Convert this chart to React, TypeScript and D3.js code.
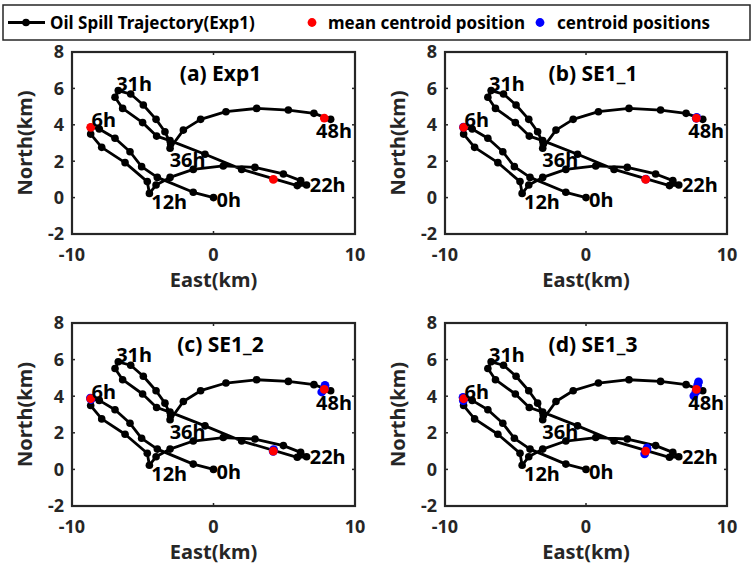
import React from 'react';
import * as d3 from 'd3';

// Exp1 oil spill trajectory, hourly-ish positions (km east, km north)
const trajEast = [
  0.0, -1.43, -3.97, -5.08, -5.9, -6.96, -8.07, -8.68,
  -8.68, -7.9, -6.25, -4.68, -4.53,
  -4.06, -3.07, -1.43, 0.69, 2.93, 4.94, 6.16, 6.58,
  5.92, 1.99, -0.6, -3.07, -4.02, -5.01, -6.42, -6.96, -6.73,
  -5.85, -4.96, -4.06, -3.43, -3.03, -3.07,
  -2.13, -0.91, 0.88, 3.05, 5.29, 7.1, 8.28,
];
const trajNorth = [
  0.0, 0.29, 1.11, 1.7, 2.52, 3.26, 3.77, 3.86,
  3.49, 2.76, 1.92, 0.88, 0.23,
  0.69, 1.11, 1.55, 1.74, 1.66, 1.3, 0.93, 0.69,
  0.66, 1.55, 2.38, 3.13, 3.38, 4.12, 4.9, 5.51, 5.88,
  5.69, 5.09, 4.3, 3.62, 2.95, 2.71,
  3.71, 4.3, 4.72, 4.9, 4.81, 4.63, 4.3,
];

// Time labels along the trajectory
const timeLabels = ['0h', '6h', '12h', '22h', '31h', '36h', '48h'];
const timeLabelEast = [0.22, -8.62, -4.4, 6.8, -6.88, -3.1, 7.25];
const timeLabelNorth = [-0.13, 4.26, -0.22, 0.69, 6.28, 2.07, 3.66];

// Mean centroid positions (same in every panel)
const meanEast = [-8.68, 4.23, 7.83];
const meanNorth = [3.86, 1.0, 4.37];

// Individual centroid positions for each experiment
const panelTitles = ['(a) Exp1', '(b) SE1_1', '(c) SE1_2', '(d) SE1_3'];
const centroidEast = [
  [],
  [-8.69, 4.24, 7.85, 7.82],
  [-8.7, -8.66, 4.25, 4.22, 7.88, 7.85, 7.65],
  [-8.72, -8.7, 4.33, 4.28, 4.16, 7.98, 7.92, 7.8, 7.65],
];
const centroidNorth = [
  [],
  [3.87, 1.02, 4.41, 4.36],
  [3.9, 3.82, 1.08, 0.98, 4.59, 4.45, 4.23],
  [3.94, 3.76, 1.17, 1.05, 0.85, 4.78, 4.6, 4.25, 4.02],
];

const xTicks = [-10, 0, 10];
const yTicks = [-2, 0, 2, 4, 6, 8];

const W = 751;
const H = 567;
const FONT = '"Noto Sans", "DejaVu Sans", sans-serif';
const AXIS = '#262626';

const panelBoxes = [
  { left: 72, right: 355, top: 52, bottom: 234 },
  { left: 445, right: 727, top: 52, bottom: 234 },
  { left: 72, right: 355, top: 323, bottom: 506 },
  { left: 445, right: 727, top: 323, bottom: 506 },
];

function Panel({ idx }: { idx: number }) {
  const b = panelBoxes[idx];
  const x = d3.scaleLinear().domain([-10, 10]).range([b.left, b.right]);
  const y = d3.scaleLinear().domain([-2, 8]).range([b.bottom, b.top]);
  const pts = trajEast.map((e, i) => [e, trajNorth[i]] as [number, number]);
  const line = d3
    .line<[number, number]>()
    .x((d) => x(d[0]))
    .y((d) => y(d[1]));
  const cx = (b.left + b.right) / 2;
  const tickLen = 3;
  return (
    <g>
      <path d={line(pts) || ''} fill="none" stroke="#000" strokeWidth={2.8} strokeLinejoin="round" />
      {pts.map((p, i) => (
        <circle key={'m' + i} cx={x(p[0])} cy={y(p[1])} r={3.8} fill="#000" />
      ))}
      {centroidEast[idx].map((e, i) => (
        <circle key={'b' + i} cx={x(e)} cy={y(centroidNorth[idx][i])} r={4.4} fill="#0000ff" />
      ))}
      {meanEast.map((e, i) => (
        <circle key={'r' + i} cx={x(e)} cy={y(meanNorth[i])} r={4.4} fill="#ff0000" />
      ))}
      {timeLabels.map((t, i) => (
        <text
          key={'t' + i}
          x={x(timeLabelEast[i])}
          y={y(timeLabelNorth[i])}
          dy="0.36em"
          fontFamily={FONT}
          fontWeight="bold"
          fontSize={20}
          fill="#000"
        >
          {t}
        </text>
      ))}
      <text
        x={cx + 7}
        y={b.top + 21}
        dy="0.36em"
        textAnchor="middle"
        fontFamily={FONT}
        fontWeight="bold"
        fontSize={21}
        fill="#000"
      >
        {panelTitles[idx]}
      </text>
      {/* frame and inward ticks */}
      <rect
        x={b.left}
        y={b.top}
        width={b.right - b.left}
        height={b.bottom - b.top}
        fill="none"
        stroke={AXIS}
        strokeWidth={2.2}
      />
      {xTicks.map((t) => (
        <g key={'xt' + t}>
          <line x1={x(t)} x2={x(t)} y1={b.bottom} y2={b.bottom - tickLen} stroke={AXIS} strokeWidth={1.5} />
          <line x1={x(t)} x2={x(t)} y1={b.top} y2={b.top + tickLen} stroke={AXIS} strokeWidth={1.5} />
          <text
            x={x(t)}
            y={b.bottom + 21}
            dy="0.36em"
            textAnchor="middle"
            fontFamily={FONT}
            fontWeight="bold"
            fontSize={18}
            fill="#262626"
          >
            {t}
          </text>
        </g>
      ))}
      {yTicks.map((t) => (
        <g key={'yt' + t}>
          <line x1={b.left} x2={b.left + tickLen} y1={y(t)} y2={y(t)} stroke={AXIS} strokeWidth={1.5} />
          <line x1={b.right} x2={b.right - tickLen} y1={y(t)} y2={y(t)} stroke={AXIS} strokeWidth={1.5} />
          <text
            x={b.left - 8}
            y={y(t)}
            dy="0.36em"
            textAnchor="end"
            fontFamily={FONT}
            fontWeight="bold"
            fontSize={18}
            fill="#262626"
          >
            {t}
          </text>
        </g>
      ))}
      <text
        x={cx}
        y={b.bottom + 46}
        dy="0.36em"
        textAnchor="middle"
        fontFamily={FONT}
        fontWeight="bold"
        fontSize={20}
        fill="#262626"
      >
        East(km)
      </text>
      <text
        transform={`translate(${b.left - 47},${(b.top + b.bottom) / 2}) rotate(-90)`}
        dy="0.36em"
        textAnchor="middle"
        fontFamily={FONT}
        fontWeight="bold"
        fontSize={20}
        fill="#262626"
      >
        North(km)
      </text>
    </g>
  );
}

function Legend() {
  const top = 5;
  const h = 35;
  const mid = top + h / 2;
  return (
    <g>
      <rect x={3} y={top} width={W - 4} height={h} fill="#fff" stroke={AXIS} strokeWidth={1.5} />
      <line x1={8} x2={45} y1={mid} y2={mid} stroke="#000" strokeWidth={2.8} />
      <circle cx={26} cy={mid} r={3.8} fill="#000" />
      <text x={50} y={mid} dy="0.36em" fontFamily={FONT} fontWeight="bold" fontSize={17} fill="#000">
        Oil Spill Trajectory(Exp1)
      </text>
      <circle cx={312} cy={mid} r={4.4} fill="#ff0000" />
      <text x={328} y={mid} dy="0.36em" fontFamily={FONT} fontWeight="bold" fontSize={17} fill="#000">
        mean centroid position
      </text>
      <circle cx={540} cy={mid} r={4.4} fill="#0000ff" />
      <text x={557} y={mid} dy="0.36em" fontFamily={FONT} fontWeight="bold" fontSize={17} fill="#000">
        centroid positions
      </text>
    </g>
  );
}

export default function App() {
  return (
    <svg
      width={W}
      height={H}
      viewBox={`0 0 ${W} ${H}`}
      style={{ position: 'absolute', left: 0, top: 0, background: '#fff' }}
    >
      <rect x={0} y={0} width={W} height={H} fill="#fff" />
      {[0, 1, 2, 3].map((i) => (
        <Panel key={i} idx={i} />
      ))}
      <Legend />
    </svg>
  );
}
